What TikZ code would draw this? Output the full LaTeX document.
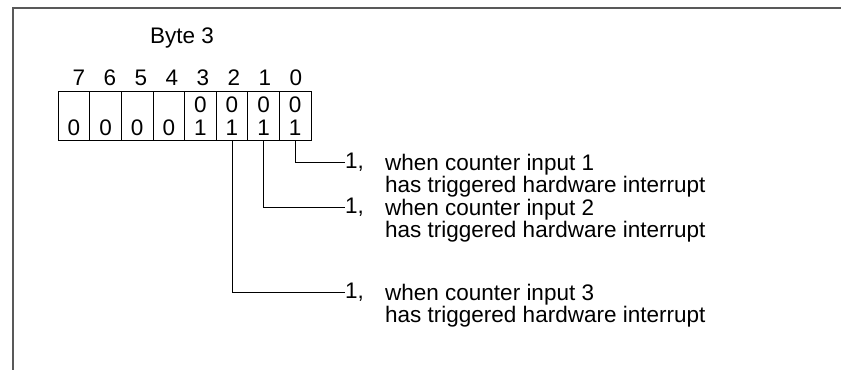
\documentclass[tikz,border=0pt]{standalone}
\usepackage{fontspec}
\setmainfont{Liberation Sans}
\usetikzlibrary{calc}
\begin{document}
\begin{tikzpicture}[x=1pt,y=-1pt,
  txt/.style={inner sep=0pt, font=\fontsize{22.5}{22.5}\selectfont},
  cell/.style={draw, line width=0.9pt, minimum width=31.6pt, minimum height=49pt, inner sep=0pt},
  frame/.style={draw=black!65, line width=1.4pt},
  conn/.style={draw, line width=0.9pt}]
\useasboundingbox (0,0) rectangle (841,370);
% frame
\coordinate (fa) at (841,8);
\coordinate (fb) at (13,8);
\coordinate (fc) at (13,370);
\draw[frame] (fa) -- (fb) -- (fc);
% title
\node[txt, anchor=base] (title) at (182,43) {Byte 3};
% bit labels
\foreach \b/\x in {7/79,6/110,5/141,4/172,3/203,2/234,1/265,0/296}{
  \node[txt, anchor=base] (b\b) at (\x,85) {\b};
}
% cells
\foreach \i in {0,...,7}{
  \node[cell] (c\i) at ({311-15.8-31.6*\i},115.5) {};
}
\foreach \i in {4,...,7}{
  \node[txt, anchor=base] (z\i) at ($(c\i.center)+(0,20)$) {0};
}
\foreach \i in {0,...,3}{
  \node[txt, anchor=base] (u\i) at ($(c\i.center)+(0,-3)$) {0};
  \node[txt, anchor=base] (l\i) at ($(c\i.center)+(0,20)$) {1};
}
% texts
\node[txt, anchor=west] (n1) at (345,162) {1,};
\node[txt, anchor=base west] (t1a) at (385,170) {when counter input 1};
\node[txt, anchor=base west] (t1b) at (385,192) {has triggered hardware interrupt};
\node[txt, anchor=west] (n2) at (345,207) {1,};
\node[txt, anchor=base west] (t2a) at (385,215) {when counter input 2};
\node[txt, anchor=base west] (t2b) at (385,237) {has triggered hardware interrupt};
\node[txt, anchor=west] (n3) at (345,292) {1,};
\node[txt, anchor=base west] (t3a) at (385,300) {when counter input 3};
\node[txt, anchor=base west] (t3b) at (385,322) {has triggered hardware interrupt};
% connectors
\draw[conn] (c0.south) |- (n1.west);
\draw[conn] (c1.south) |- (n2.west);
\draw[conn] (c2.south) |- (n3.west);
\end{tikzpicture}
\end{document}
